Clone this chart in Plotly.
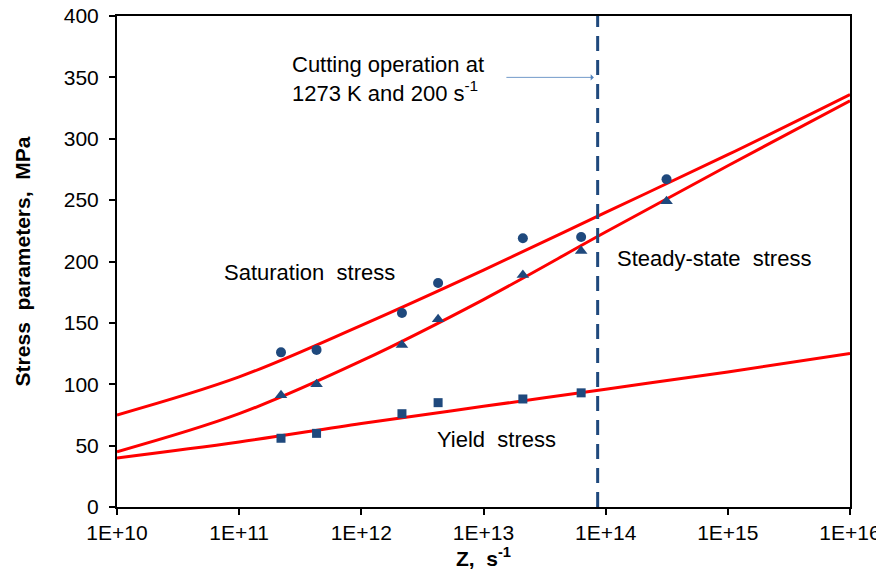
import plotly.graph_objects as go

# ---- data ----
Z_sat = [2.2e11, 4.3e11, 2.15e12, 4.25e12, 2.1e13, 6.3e13, 3.15e14]
sat_stress = [126, 128, 158, 182.5, 219, 220, 267]

Z_ss = [2.2e11, 4.3e11, 2.15e12, 4.25e12, 2.1e13, 6.3e13, 3.15e14]
ss_stress = [91, 100, 132, 153, 189, 208.5, 249]

Z_y = [2.2e11, 4.3e11, 2.15e12, 4.25e12, 2.1e13, 6.3e13]
yield_stress = [56, 60, 76, 85, 88, 93]

Z_fit = [1e10, 1e11, 1e12, 1e13, 1e14, 1e15, 1e16]
sat_fit = [75, 106, 148, 193, 240, 287, 336]
ss_fit = [45, 76, 119, 169, 224, 278, 331]
yield_fit = [40, 53, 68, 82, 96, 110, 125]

cut_Z = [8.6e13, 8.6e13]
cut_y = [0, 400]

x_tickvals = [1e10, 1e11, 1e12, 1e13, 1e14, 1e15, 1e16]
x_ticktext = ["1E+10", "1E+11", "1E+12", "1E+13", "1E+14", "1E+15", "1E+16"]
y_tickvals = [0, 50, 100, 150, 200, 250, 300, 350, 400]

BLUE = "#1F497D"
RED = "#FF0000"
FONT = "Liberation Sans, Arial, sans-serif"

fig = go.Figure()

for yv in (sat_fit, ss_fit, yield_fit):
    fig.add_trace(go.Scatter(x=Z_fit, y=yv, mode="lines",
                             line=dict(color=RED, width=3, shape="spline", smoothing=1.0),
                             hoverinfo="skip"))

fig.add_trace(go.Scatter(x=cut_Z, y=cut_y, mode="lines",
                         line=dict(color=BLUE, width=3, dash="15px,9px")))

fig.add_trace(go.Scatter(x=Z_sat, y=sat_stress, mode="markers",
                         marker=dict(symbol="circle", size=10, color=BLUE)))
fig.add_trace(go.Scatter(x=Z_ss, y=ss_stress, mode="markers",
                         marker=dict(symbol="triangle-up", size=11, color=BLUE)))
fig.add_trace(go.Scatter(x=Z_y, y=yield_stress, mode="markers",
                         marker=dict(symbol="square", size=9, color=BLUE)))

txt = dict(family=FONT, size=22, color="black")
fig.add_annotation(x=0.236, y=0.872, xref="paper", yref="paper",
                   text="Cutting operation at<br>1273 K and 200 s<sup>-1</sup>",
                   showarrow=False, align="left", xanchor="left", yanchor="middle", font=txt)
fig.add_annotation(x=13.903, y=350, ax=13.175, ay=350, xref="x", yref="y", axref="x", ayref="y",
                   text="", showarrow=True, arrowhead=1, arrowsize=1.3, arrowwidth=0.8,
                   arrowcolor="#4F81BD")
fig.add_annotation(x=0.1432, y=0.4786, xref="paper", yref="paper", text="Saturation  stress",
                   showarrow=False, xanchor="left", yanchor="middle", font=txt)
fig.add_annotation(x=0.6794, y=0.507, xref="paper", yref="paper", text="Steady-state  stress",
                   showarrow=False, xanchor="left", yanchor="middle", font=txt)
fig.add_annotation(x=0.4338, y=0.1365, xref="paper", yref="paper", text="Yield  stress",
                   showarrow=False, xanchor="left", yanchor="middle", font=txt)

fig.update_layout(
    width=884, height=576,
    margin=dict(l=109, r=42, t=8, b=77, autoexpand=False),
    paper_bgcolor="white", plot_bgcolor="white",
    showlegend=False,
    font=dict(family=FONT, size=21, color="black"),
    xaxis=dict(type="log", range=[10, 16], tickvals=x_tickvals, ticktext=x_ticktext,
               showgrid=False, zeroline=False, showline=True, linecolor="black", linewidth=2,
               mirror=True, ticks="outside", ticklen=6, tickwidth=1.5, tickcolor="black",
               tickfont=dict(size=21), automargin=False, ticklabeloverflow="allow",
               title=dict(text="<b>Z,  s<sup>-1</sup></b>", font=dict(size=21), standoff=7)),
    yaxis=dict(range=[0, 400], tickvals=y_tickvals,
               showgrid=False, zeroline=False, showline=True, linecolor="black", linewidth=2,
               mirror=True, ticks="outside", ticklen=6, tickwidth=1.5, tickcolor="black",
               tickfont=dict(size=21), automargin=False, ticklabelstandoff=6,
               ticklabeloverflow="allow",
               title=dict(text="<b>Stress  parameters,  MPa</b>", font=dict(size=21), standoff=27)),
)

fig.write_html("out.html")
